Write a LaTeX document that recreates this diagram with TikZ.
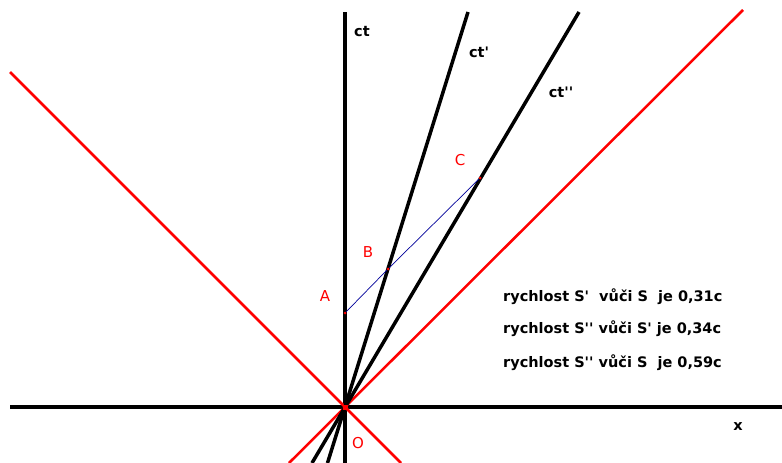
\documentclass[tikz,border=0pt]{standalone}
\usepackage{fontspec}
\setmainfont{DejaVu Sans}
\newcommand{\ap}{\textquotesingle}
\begin{document}
\begin{tikzpicture}[x=1pt,y=-1pt,
  axis/.style={line width=3.5pt,black},
  light/.style={line width=2.5pt,red},
  wl/.style={line width=3.5pt,black},
  lbl/.style={font=\fontsize{14.5}{16}\selectfont\bfseries,inner sep=0pt},
  rlbl/.style={inner sep=0pt,text=red,font=\fontsize{15}{17}\selectfont},
  pt/.style={circle,fill=red,inner sep=0pt,minimum size=3pt}]
\useasboundingbox (0,0) rectangle (782,463);
\coordinate (O) at (345,407);
\coordinate (xl) at (10,407);
\coordinate (xr) at (782,407);
\coordinate (ctt) at (345,12);
\coordinate (ctb) at (345,463);
\coordinate (c1t) at (468,12);
\coordinate (c1b) at (327.5,463);
\coordinate (c2t) at (579,12);
\coordinate (c2b) at (312,463);
\coordinate (l1t) at (10,72);
\coordinate (l1b) at (401,463);
\coordinate (l2t) at (743,10);
\coordinate (l2b) at (289,463);
\draw[axis] (xl) -- (xr);
\draw[axis] (ctt) -- (ctb);
\draw[light] (l1t) -- (l1b);
\draw[light] (l2t) -- (l2b);
\draw[wl] (c1t) -- (c1b);
\draw[wl] (c2t) -- (c2b);
\node[pt,minimum size=5pt,rectangle] (o) at (O) {};
\node[pt] (A) at (345,313) {};
\node[pt] (B) at (388,269) {};
\node[pt] (C) at (480,178) {};
\node[pt,minimum size=2pt] (M) at (203,265) {};
\draw[line width=0.7pt,blue!60!black] (A) -- (B) -- (C);
\node[rlbl] (la) at (325,296) {A};
\node[rlbl] (lb) at (368,252) {B};
\node[rlbl] (lc) at (460,160) {C};
\node[rlbl] (lo) at (358,443) {O};
\node[lbl] (lct) at (362,32) {ct};
\node[lbl] (lct1) at (479,52) {ct\ap};
\node[lbl] (lct2) at (561,92) {ct\ap\ap};
\node[lbl] (lx) at (738,427) {x};
\node[lbl,anchor=west] (t1) at (503,297) {rychlost S\ap\ \ vůči S\ \ je 0,31c};
\node[lbl,anchor=west] (t2) at (503,329) {rychlost S\ap\ap\ vůči S\ap\ je 0,34c};
\node[lbl,anchor=west] (t3) at (503,363) {rychlost S\ap\ap\ vůči S\ \ je 0,59c};
\end{tikzpicture}
\end{document}
